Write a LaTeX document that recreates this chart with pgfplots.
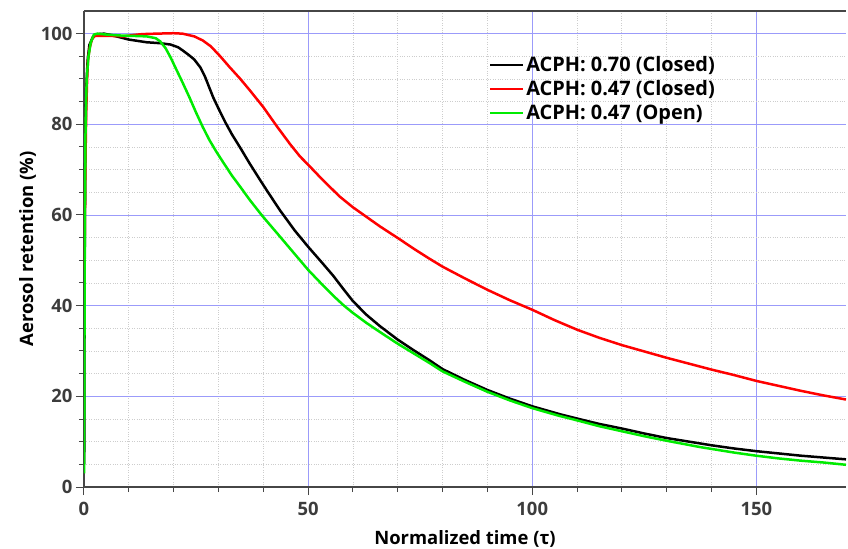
\documentclass[border=0pt]{standalone}
\usepackage{fontspec}
\setmainfont{Open Sans}
\usepackage{pgfplots}
\pgfplotsset{compat=1.18}

\definecolor{gridblue}{RGB}{155,155,250}
\definecolor{minorgrid}{RGB}{205,205,205}
\definecolor{axisgray}{RGB}{70,70,70}
\definecolor{tickgray}{RGB}{60,60,60}
\definecolor{lime}{RGB}{0,235,0}

\begin{document}
\begin{tikzpicture}
\begin{axis}[
    at={(0,0)}, anchor=south west,
    scale only axis,
    width=762bp, height=476bp,
    xmin=0, xmax=170,
    ymin=0, ymax=105,
    xtick={0,50,100,150},
    ytick={0,20,40,60,80,100},
    minor x tick num=4,
    minor y tick num=3,
    axis lines=left,
    axis line style={-, draw=axisgray, line width=1.3bp},
    tick align=outside,
    major tick length=8bp,
    minor tick length=5bp,
    every tick/.style={draw=axisgray, line width=1bp},
    grid=both,
    major grid style={draw=gridblue, line width=0.9bp},
    minor grid style={draw=minorgrid, dotted, line width=0.8bp},
    /pgf/number format/assume math mode=true,
    ticklabel style={font=\fontsize{18.5}{21}\selectfont\bfseries, text=tickgray},
    xticklabel style={yshift=-4bp},
    xlabel={Normalized time (τ)},
    ylabel={Aerosol retention (\%)},
    label style={font=\fontsize{18.5}{21}\selectfont\bfseries},
    xlabel style={yshift=-8bp},
    ylabel style={yshift=-2bp},
    legend style={draw=none, fill=none, at={(0.527,0.912)}, anchor=north west,
        font=\fontsize{20}{23}\selectfont\bfseries, row sep=4.5bp,
        nodes={inner ysep=1.5bp}},
    legend cell align=left,
    legend image code/.code={\draw[#1, line width=2.5bp] (-3bp,0bp) -- (30bp,0bp);},
    every axis plot/.append style={line width=2.5bp, line join=round},
]
% ACPH 0.70 closed
\addplot[black] coordinates {
(0.05,5)(0.15,50)(0.3,75)(0.5,88)(0.8,94)(1.2,97.5)(2,99.3)(3,99.9)(4.5,100)
(6,99.7)(8,99.2)(10,98.7)(12,98.4)(14,98.1)(17,97.9)(19.3,97.6)(21,97)
(22.3,96.1)(23.5,95.2)(24.6,94.3)(26,92.5)(27,90.5)(28.8,86)(30,83.5)
(31.5,80.5)(33,77.8)(35,74.6)(37,71.3)(39.3,67.7)(41,65.1)(43.75,61)
(47,56.6)(50,53)(53,49.6)(55.6,46.6)(58,43.5)(60,41)(63,38)(66,35.5)
(70,32.5)(73.5,30.2)(77,28)(80,26)(85,23.6)(90,21.4)(95,19.5)(100,17.8)
(106,16.1)(110,15.1)(115,13.9)(120,12.9)(125,11.8)(130,10.8)(137.5,9.6)
(140,9.2)(145,8.5)(150,7.9)(155,7.4)(160,6.9)(165,6.5)(170,6.1)
};
\addlegendentry{ACPH: 0.70 (Closed)}
% ACPH 0.47 closed
\addplot[red] coordinates {
(0.1,48)(0.3,70)(0.5,83)(0.7,90)(0.9,94.3)(1.3,97)(1.8,98.8)(2.4,99.5)
(4,99.5)(6,99.5)(8.9,99.4)(11,99.7)(13,99.9)(16,100)(20,100.1)(22,100)
(24.6,99.4)(26.5,98.5)(28.3,97.2)(30.4,95)(32.5,92.6)(34.8,90.1)(37,87.5)
(40,83.8)(43,79.6)(46,75.6)(48.2,72.9)(50,71.1)(53,68)(57,64.1)(60,61.7)
(63,59.6)(66,57.5)(70.5,54.6)(73.5,52.6)(77,50.4)(80,48.6)(85,46)(90,43.5)
(95,41.2)(100,39.1)(105,36.8)(110,34.7)(115,32.9)(120,31.3)(125,29.9)
(130,28.5)(135,27.2)(140,25.9)(145,24.7)(150,23.4)(155,22.3)(160,21.2)
(165,20.2)(170,19.3)
};
\addlegendentry{ACPH: 0.47 (Closed)}
% ACPH 0.47 open
\addplot[lime] coordinates {
(0.02,3)(0.1,30)(0.2,60)(0.35,80)(0.6,90)(1,95)(1.5,98)(2.2,99.8)(3,100)
(5,99.8)(8,99.6)(11,99.5)(14,99.4)(16,99)(17,98.3)(18.2,96.8)(19.3,94.8)
(20.5,92.3)(22,89.2)(23.5,86)(25,82.6)(26.5,79.4)(28,76.5)(29.5,74)
(31,71.7)(33,68.7)(34.8,66.3)(37,63.3)(39.7,59.9)(43.75,55.2)(47,51.4)
(50,47.9)(53,44.8)(55.6,42.2)(58,40)(60,38.4)(63,36.2)(66,34.2)(70,31.6)
(73.5,29.5)(77,27.4)(80,25.5)(85,23.2)(90,21)(95,19.1)(100,17.4)(106,15.7)
(110,14.7)(115,13.4)(120,12.3)(125,11.2)(130,10.2)(137.5,8.8)(140,8.4)
(145,7.6)(150,6.9)(155,6.3)(160,5.8)(165,5.4)(170,4.9)
};
\addlegendentry{ACPH: 0.47 (Open)}
\draw[axisgray, line width=2bp] (rel axis cs:0,1) -- (rel axis cs:1,1);
\end{axis}
\pgfresetboundingbox
\useasboundingbox (-84bp,-62bp) rectangle (764bp,487bp);
\end{tikzpicture}
\end{document}
